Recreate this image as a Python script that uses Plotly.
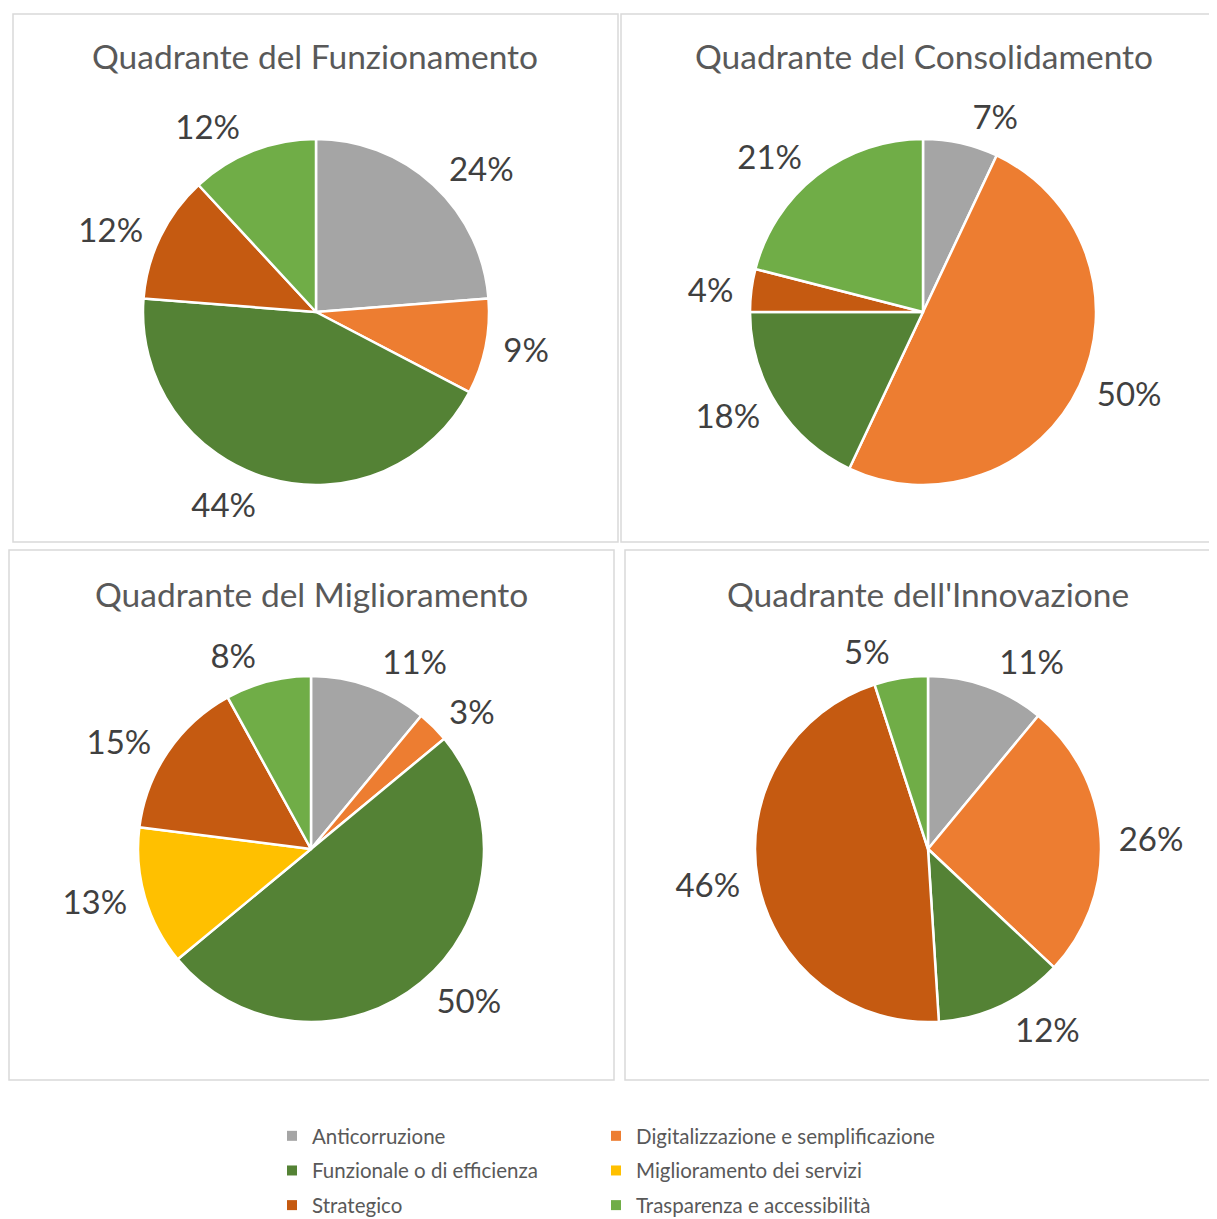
import plotly.graph_objects as go

# page is rendered with an 8px body margin: figure spans page px 8..1217 / 8..1219
OFF = 8
FW, FH = 1217 - OFF, 1219 - OFF

categories = ["Anticorruzione", "Digitalizzazione e semplificazione",
              "Funzionale o di efficienza", "Miglioramento dei servizi",
              "Strategico", "Trasparenza e accessibilità"]
colors = ["#A5A5A5", "#ED7D31", "#548235", "#FFC000", "#C55A11", "#70AD47"]

titles = ["Quadrante del Funzionamento", "Quadrante del Consolidamento",
          "Quadrante del Miglioramento", "Quadrante dell'Innovazione"]
funzionamento = [24, 9, 44, 0, 12, 12]
consolidamento = [7, 50, 18, 0, 4, 21]
miglioramento = [11, 3, 50, 13, 15, 8]
innovazione = [11, 26, 12, 0, 46, 5]
series = [funzionamento, consolidamento, miglioramento, innovazione]

# layout (page pixels)
centers = [(316, 312), (923, 312), (311, 849), (928, 849)]
R = 173
R_LABEL = 181
title_pos = [(315, 56), (924, 56), (311, 594), (928, 594)]
panels = [(13, 14, 618, 542), (621, 14, 1220, 542), (9, 550, 614, 1080), (625, 550, 1220, 1080)]

TXT = "#595959"
FONT = "Lato"


def fx(p):
    return (p - OFF) / FW


def fy(p):
    return (FH - (p - OFF)) / FH


def px_dom(cx, cy, r):
    return dict(x=[fx(cx - r), fx(cx + r)], y=[fy(cy + r), fy(cy - r)])


fig = go.Figure()

for k, vals in enumerate(series):
    labs = [c for c, v in zip(categories, vals) if v > 0]
    vs = [v for v in vals if v > 0]
    cs = [col for col, v in zip(colors, vals) if v > 0]
    cx, cy = centers[k]
    fig.add_trace(go.Pie(
        labels=labs, values=vs, sort=False, direction="clockwise", rotation=0,
        marker=dict(colors=cs, line=dict(color="white", width=2.5)),
        textinfo="none", showlegend=False, domain=px_dom(cx, cy, R),
        hovertemplate="%{label}: %{value}%<extra></extra>"))
    fig.add_trace(go.Pie(
        labels=labs, values=vs, sort=False, direction="clockwise", rotation=0,
        marker=dict(colors=["rgba(0,0,0,0)"] * len(vs), line=dict(width=0)),
        texttemplate="%{value}%", textposition="outside",
        outsidetextfont=dict(family=FONT, size=33, color="#404040"),
        showlegend=False, hoverinfo="skip", domain=px_dom(cx, cy, R_LABEL)))

# legend entries
for i, (c, col) in enumerate(zip(categories, colors)):
    fig.add_trace(go.Scatter(
        x=[None], y=[None], mode="markers", name=c,
        marker=dict(symbol="square", size=10, color=col),
        legend="legend" if i % 2 == 0 else "legend2", legendgroup=c))

shapes = []
for (x0, y0, x1, y1) in panels:
    shapes.append(dict(type="rect", xref="paper", yref="paper",
                       x0=fx(x0), x1=fx(x1), y0=fy(y1), y1=fy(y0),
                       line=dict(color="#D9D9D9", width=1.5), fillcolor="rgba(0,0,0,0)"))

annotations = []
for t, (tx, ty) in zip(titles, title_pos):
    annotations.append(dict(text=t, x=fx(tx), y=fy(ty), xref="paper", yref="paper",
                            xanchor="center", yanchor="middle", showarrow=False,
                            font=dict(family=FONT, size=33.5, color=TXT)))

leg_common = dict(orientation="v", yanchor="top", xanchor="left",
                  font=dict(family=FONT, size=20.5, color=TXT),
                  tracegroupgap=5, bgcolor="rgba(0,0,0,0)", itemclick=False)

fig.update_layout(
    width=FW, height=FH, margin=dict(l=0, r=0, t=0, b=0, autoexpand=False),
    paper_bgcolor="white", plot_bgcolor="white",
    xaxis=dict(visible=False), yaxis=dict(visible=False),
    shapes=shapes, annotations=annotations,
    legend=dict(x=fx(272), y=fy(1116), **leg_common),
    legend2=dict(x=fx(596), y=fy(1116), **leg_common),
    font=dict(family=FONT),
)

fig.write_html("out.html")
